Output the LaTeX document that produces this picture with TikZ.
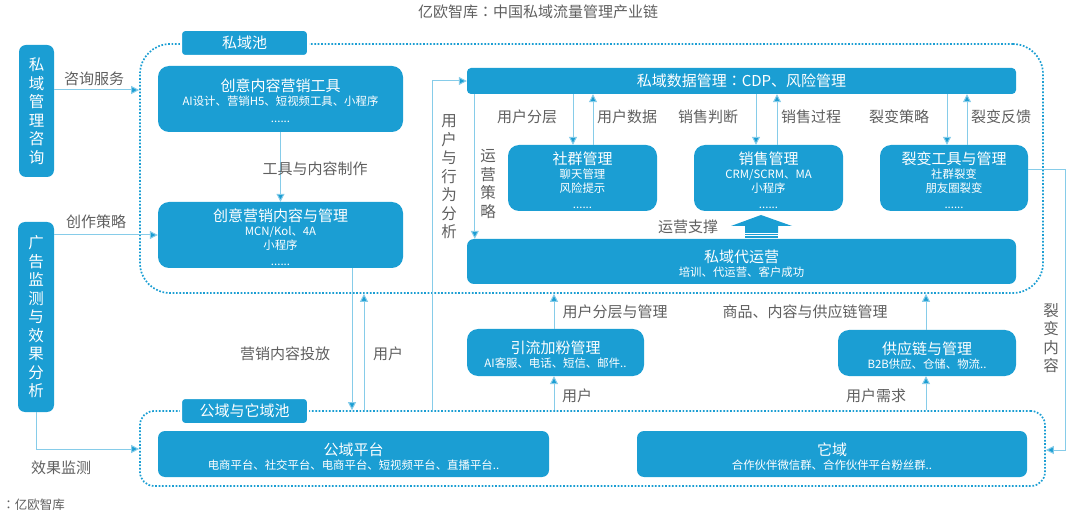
\documentclass[tikz,border=0pt]{standalone}
\usepackage{fontspec}
\setmainfont{Noto Sans CJK SC}
\newfontfamily\colonfont{Noto Sans CJK TC}
\usetikzlibrary{arrows.meta}
\definecolor{boxblue}{HTML}{1B9ED3}
\definecolor{flowblue}{HTML}{86CCE9}
\definecolor{labelgray}{HTML}{5F5F5F}
\tikzset{x=1pt,y=-1pt,
    box/.style={draw=none,fill=boxblue,text=white,rounded corners=7pt,align=center,inner sep=0pt},
    bigbox/.style={box,rounded corners=11pt,font=\fontsize{11.4}{14}\selectfont},
    tagbox/.style={box,rounded corners=4pt,minimum width=127pt,minimum height=26pt,font=\fontsize{15}{17}\selectfont},
    pool/.style={draw=boxblue,line width=1.7pt,dash pattern=on 1.7pt off 1.7pt,rounded corners=30pt},
    flow/.style={draw=flowblue,line width=1pt,-{Triangle[length=8pt,width=8pt,fill=boxblue]}},
    tag/.style={text=labelgray,font=\fontsize{15}{17}\selectfont,inner sep=0pt},
    upright/.style={tag,align=center,font=\fontsize{15.5}{18.5}\selectfont}}
\newcommand{\bigline}[1]{{\fontsize{15}{16}\selectfont\rule{0pt}{17pt}#1}}
\newcommand{\cncolon}{{\colonfont ：}}
\begin{document}
\begin{tikzpicture}
    \useasboundingbox (0,0) rectangle (1080,513);
    \node[tag] (title) at (538,12) {亿欧智库\cncolon 中国私域流量管理产业链};
    % pools
    \node[pool,minimum width=903pt,minimum height=249pt] (privatepool) at (591.5,168.5) {};
    \node[pool,rounded corners=14pt,minimum width=905pt,minimum height=75pt] (publicpool) at (592.5,448.5) {};
    \node[tagbox,draw=white,line width=2pt] (privatetag) at (244.5,43) {私域池};
    \node[tagbox,draw=white,line width=2pt] (publictag) at (244.5,411) {公域与它域池};
    % left column
    \node[box,upright,text=white,minimum width=35pt,minimum height=132pt] (consult) at (36.5,111) {私\\域\\管\\理\\咨\\询};
    \node[box,upright,text=white,minimum width=36pt,minimum height=190pt] (monitor) at (36,317) {广\\告\\监\\测\\与\\效\\果\\分\\析};
    % creative column
    \node[bigbox,minimum width=245pt,minimum height=66pt] (tools) at (280.5,99) {\bigline{创意内容营销工具}\\AI设计、营销H5、短视频工具、小程序\\[3pt]......};
    \node[bigbox,minimum width=245pt,minimum height=66pt] (content) at (280.5,235) {\bigline{创意营销内容与管理}\\MCN/Kol、4A\\小程序\\[2pt]......};
    % private domain
    \node[box,rounded corners=4pt,font=\fontsize{15}{17}\selectfont,minimum width=549pt,minimum height=26pt] (data) at (741.5,81) {私域数据管理\cncolon CDP、风险管理};
    \node[bigbox,minimum width=149pt,minimum height=66pt] (community) at (582.5,178) {\bigline{社群管理}\\聊天管理\\风险提示\\[2pt]......};
    \node[bigbox,minimum width=149pt,minimum height=66pt] (sales) at (768.5,178) {\bigline{销售管理}\\CRM/SCRM、MA\\小程序\\[2pt]......};
    \node[bigbox,minimum width=148pt,minimum height=66pt] (fission) at (954,178) {\bigline{裂变工具与管理}\\社群裂变\\朋友圈裂变\\[2pt]......};
    \node[bigbox,rounded corners=7pt,minimum width=549pt,minimum height=45pt] (operate) at (741.5,261.5) {\bigline{私域代运营}\\培训、代运营、客户成功};
    % feeders
    \node[bigbox,minimum width=177pt,minimum height=47pt] (traffic) at (555.5,352.5) {\bigline{引流加粉管理}\\AI客服、电话、短信、邮件..};
    \node[bigbox,minimum width=178pt,minimum height=46pt] (supply) at (927,353) {\bigline{供应链与管理}\\B2B供应、仓储、物流..};
    % public domain
    \node[bigbox,rounded corners=7pt,minimum width=391pt,minimum height=46pt] (public) at (353.5,454) {\bigline{公域平台}\\电商平台、社交平台、电商平台、短视频平台、直播平台..};
    \node[bigbox,rounded corners=7pt,minimum width=390pt,minimum height=46pt] (other) at (832,454) {\bigline{它域}\\合作伙伴微信群、合作伙伴平台粉丝群..};
    % big arrow
    \fill[boxblue] (761,215) -- (792,226) -- (778,226) -- (778,233) -- (745,233) -- (745,226) -- (731,226) -- cycle;
    \fill[boxblue] (745,234) rectangle (778,235.2);
    \fill[boxblue] (745,236.4) rectangle (778,238);
    % connectors
    \coordinate (bendA) at ([yshift=5pt]monitor.south |- public.center);
    \coordinate (bendB) at ([xshift=37pt,yshift=8pt]fission.east);
    \coordinate (bendC) at ([yshift=4pt]bendB |- public.center);
    \draw[flow] ([yshift=21pt]consult.east) -- ([yshift=21pt]consult.east -| privatepool.west);
    \draw[flow] ([yshift=82pt]monitor.east) -- ([yshift=82pt]monitor.east -| content.west);
    \draw[flow] (monitor.south) -- (bendA) -- (bendA -| publicpool.west);
    \draw[flow] (tools.south) -- (content.north);
    \draw[flow] ([xshift=71.5pt]content.south) -- ([xshift=71.5pt]content.south |- publicpool.north);
    \draw[flow] ([xshift=10.5pt]public.north |- publicpool.north) -- ([xshift=10.5pt]public.north |- privatepool.south);
    \draw[flow] ([xshift=78.5pt]public.north |- publicpool.north) -- ([xshift=78.5pt]public.north |- data.center) -- (data.west);
    \draw[flow] ([xshift=8pt]data.south west) -- ([xshift=8pt]data.south west |- operate.north);
    \draw[flow] ([xshift=-9.5pt]community.north |- data.south) -- ([xshift=-9.5pt]community.north);
    \draw[flow] ([xshift=10.5pt]community.north) -- ([xshift=10.5pt]community.north |- data.south);
    \draw[flow] ([xshift=-12.5pt]sales.north |- data.south) -- ([xshift=-12.5pt]sales.north);
    \draw[flow] ([xshift=8.5pt]sales.north) -- ([xshift=8.5pt]sales.north |- data.south);
    \draw[flow] ([xshift=-7pt]fission.north |- data.south) -- ([xshift=-7pt]fission.north);
    \draw[flow] ([xshift=13pt]fission.north) -- ([xshift=13pt]fission.north |- data.south);
    \draw[flow] ([xshift=-1.5pt]traffic.north) -- ([xshift=-1.5pt]traffic.north |- privatepool.south);
    \draw[flow] ([xshift=-1.5pt]traffic.south |- publicpool.north) -- ([xshift=-1.5pt]traffic.south);
    \draw[flow] ([xshift=-1pt]supply.north) -- ([xshift=-1pt]supply.north |- privatepool.south);
    \draw[flow] ([xshift=-1pt]supply.south |- publicpool.north) -- ([xshift=-1pt]supply.south);
    \draw[flow] ([yshift=8pt]fission.east) -- (bendB) -- (bendC) -- (bendC -| publicpool.east);
    % labels
    \node[tag] (consultlabel) at (94,79) {咨询服务};
    \node[tag] (strategylabel) at (96,222) {创作策略};
    \node[tag] (makelabel) at (315,169) {工具与内容制作};
    \node[tag] (deliverlabel) at (285,354) {营销内容投放};
    \node[tag] (userlabelA) at (388,354) {用户};
    \node[upright] (behaviorlabel) at (449,177) {用\\户\\与\\行\\为\\分\\析};
    \node[upright] (policylabel) at (488,184) {运\\营\\策\\略};
    \node[tag] (layerlabel) at (527,117) {用户分层};
    \node[tag] (userdatalabel) at (627,117) {用户数据};
    \node[tag] (judgelabel) at (708,117) {销售判断};
    \node[tag] (processlabel) at (811,117) {销售过程};
    \node[tag] (fissionlabel) at (899,117) {裂变策略};
    \node[tag] (feedbacklabel) at (1001,117) {裂变反馈};
    \node[tag] (supportlabel) at (688,227) {运营支撑};
    \node[tag] (traffictoplabel) at (615,312) {用户分层与管理};
    \node[tag] (supplytoplabel) at (805,312) {商品、内容与供应链管理};
    \node[tag] (userlabelB) at (577,396) {用户};
    \node[tag] (needlabel) at (876,396) {用户需求};
    \node[upright] (fissionsidelabel) at (1051,338) {裂\\变\\内\\容};
    \node[tag] (watchlabel) at (61,468) {效果监测};
    \node[tag,font=\fontsize{12.5}{14}\selectfont,anchor=east] (sourcelabel) at (65,505) {\cncolon 亿欧智库};
\end{tikzpicture}
\end{document}
